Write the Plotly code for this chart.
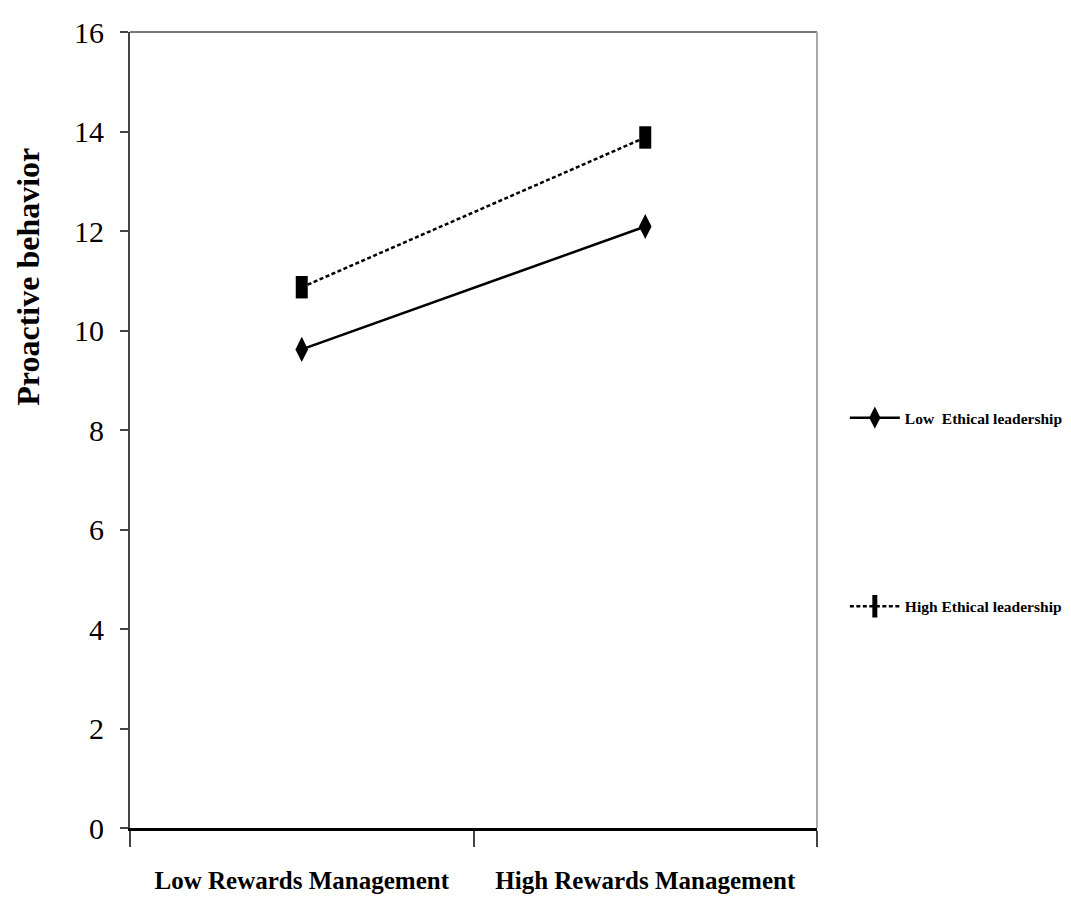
import plotly.graph_objects as go

categories = ["Low Rewards Management", "High Rewards Management"]
x_pos = [0.5, 1.5]
low_ethical = [9.62, 12.09]
high_ethical = [10.87, 13.88]
y_ticks = [0, 2, 4, 6, 8, 10, 12, 14, 16]
y_title = "Proactive behavior"

fig = go.Figure()
fig.add_trace(go.Scatter(
    x=x_pos, y=low_ethical, mode="lines+markers", name="Low  Ethical leadership",
    line=dict(color="black", width=2.5),
    marker=dict(symbol="diamond-tall", size=18, color="black"),
    legend="legend"))
fig.add_trace(go.Scatter(
    x=x_pos, y=high_ethical, mode="lines+markers", name="High Ethical leadership",
    line=dict(color="black", width=2.5, dash="4px,2.5px"),
    marker=dict(symbol="line-ns", size=16, color="black",
                line=dict(color="black", width=12)),
    legend="legend2"))

serif = "Liberation Serif"
fig.update_layout(
    width=1071, height=906,
    paper_bgcolor="white", plot_bgcolor="white",
    margin=dict(l=122, r=261, t=24, b=86),
    showlegend=True,
    legend=dict(x=1.039, y=0.515, xanchor="left", yanchor="middle",
                font=dict(family=serif, size=15.5, color="black", weight="bold"),
                itemwidth=50, bgcolor="rgba(0,0,0,0)"),
    legend2=dict(x=1.039, y=0.278, xanchor="left", yanchor="middle",
                 font=dict(family=serif, size=15.5, color="black", weight="bold"),
                 itemwidth=50, bgcolor="rgba(0,0,0,0)"),
    xaxis=dict(range=[0, 2], tickvals=x_pos, ticktext=categories, ticks="",
               showline=True, linecolor="black", linewidth=3, showgrid=False,
               zeroline=False, ticklabelstandoff=28, automargin=False,
               tickfont=dict(family=serif, size=25, color="black", weight="bold"),
               minor=dict(tickvals=[0, 1, 2], ticks="outside", ticklen=16,
                          tickcolor="#444", tickwidth=1.5, showgrid=False)),
    yaxis=dict(range=[0, 16], tickvals=y_ticks, ticks="outside", ticklen=8,
               tickcolor="#444", tickwidth=1.5, automargin=False,
               showline=True, linecolor="#444", linewidth=2, showgrid=False,
               zeroline=False, ticklabelstandoff=10,
               tickfont=dict(family=serif, size=30, color="black")),
    annotations=[
        dict(text=y_title, xref="paper", yref="paper", x=-0.148, y=0.693,
             xanchor="center", yanchor="middle", textangle=-90, showarrow=False,
             font=dict(family=serif, size=32, color="black", weight="bold")),
    ],
    shapes=[
        dict(type="line", xref="paper", yref="paper", x0=0, x1=1, y0=1, y1=1,
             line=dict(color="#777", width=2)),
        dict(type="line", xref="paper", yref="paper", x0=1, x1=1, y0=0, y1=1,
             line=dict(color="#aaa", width=2)),
    ],
)

fig.write_html("out.html")
